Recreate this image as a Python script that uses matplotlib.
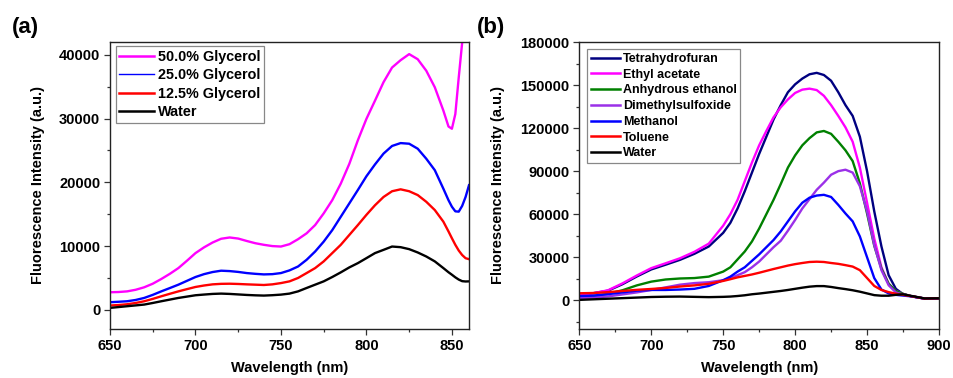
import matplotlib
matplotlib.use("Agg")
import matplotlib.pyplot as plt
from matplotlib.ticker import MultipleLocator

plt.rcParams['font.family'] = ['Liberation Sans', 'DejaVu Sans']
plt.rcParams['font.weight'] = 'bold'

# ---------------- Panel (a) data ----------------
wl_a = [650, 655, 660, 665, 670, 675, 680, 685, 690, 695, 700, 705, 710, 715, 720,
        725, 730, 735, 740, 745, 750, 755, 760, 765, 770, 775, 780, 785, 790, 795,
        800, 805, 810, 815, 820, 825, 830, 835, 840, 845, 848, 850, 852, 854, 856,
        858, 860]
gly50 = [2760, 2800, 2900, 3150, 3540, 4100, 4840, 5650, 6550, 7700, 8900, 9800, 10560,
         11150, 11350, 11180, 10800, 10450, 10200, 10000, 9930, 10300, 11080, 12000,
         13300, 15130, 17200, 19800, 22900, 26600, 29950, 32800, 35700, 38000, 39150,
         40100, 39300, 37500, 34900, 31250, 28750, 28400, 30700, 36450, 41900, 47000,
         52000]
gly25 = [1200, 1270, 1350, 1550, 1870, 2350, 2900, 3420, 3950, 4550, 5150, 5600, 5930,
         6140, 6080, 5950, 5770, 5650, 5560, 5600, 5770, 6190, 6800, 7850, 9150, 10700,
         12500, 14600, 16700, 18800, 20950, 22800, 24500, 25700, 26150, 26050, 25270,
         23700, 21900, 19000, 17200, 16170, 15450, 15400, 16300, 17700, 19550]
gly12 = [680, 760, 880, 1080, 1350, 1720, 2130, 2520, 2900, 3250, 3590, 3820, 4000, 4080,
         4100, 4060, 4000, 3950, 3900, 4000, 4200, 4470, 5000, 5770, 6550, 7600, 8900,
         10200, 11750, 13300, 14900, 16400, 17700, 18600, 18900, 18600, 18000, 16950,
         15650, 13830, 12300, 11230, 10200, 9300, 8600, 8100, 7950]
water_a = [310, 440, 570, 700, 830, 1080, 1350, 1610, 1870, 2080, 2290, 2400, 2500, 2550,
           2500, 2420, 2340, 2280, 2240, 2300, 2390, 2550, 2900, 3430, 3950, 4470, 5150,
           5880, 6660, 7330, 8110, 8900, 9410, 9930, 9830, 9520, 9000, 8370, 7600, 6550,
           5900, 5510, 5100, 4750, 4500, 4450, 4470]
labels_a = ['50.0% Glycerol', '25.0% Glycerol', '12.5% Glycerol', 'Water']

# ---------------- Panel (b) data ----------------
wl_b = [650, 660, 670, 680, 690, 700, 710, 720, 730, 740, 750, 755, 760, 765, 770, 775,
        780, 785, 790, 795, 800, 805, 810, 815, 820, 825, 830, 835, 840, 845, 850, 855,
        860, 865, 870, 875, 880, 890, 900]
thf = [3700, 5000, 6700, 11200, 16600, 21500, 24800, 28200, 32400, 37500, 47000, 54000,
       64000, 76000, 89000, 102000, 114000, 126000, 136000, 145000, 150500, 154500,
       157500, 158500, 157000, 153000, 145000, 136000, 128500, 114000, 90000, 62000,
       37500, 17500, 8000, 4300, 3000, 1200, 1400]
ethyl = [3700, 5000, 7000, 11800, 17300, 22400, 25800, 29300, 33800, 39500, 52000, 60000,
         70000, 83000, 96000, 108000, 118000, 127500, 134500, 140000, 144500, 146800,
         147500, 146500, 142500, 136000, 128500, 120500, 110500, 92500, 68000, 43000,
         23000, 11500, 6500, 4500, 3000, 1200, 1400]
ethanol = [2100, 3000, 4500, 7000, 10400, 13000, 14500, 15200, 15500, 16500, 20000, 23000,
           28500, 34000, 41000, 50000, 60000, 70000, 81000, 92500, 101000, 108000, 113000,
           117000, 118000, 116000, 110500, 104500, 97000, 81500, 60500, 38000, 22000,
           11500, 6500, 4500, 3000, 1200, 1400]
dmso = [1400, 1900, 2700, 4100, 5500, 7200, 9000, 10900, 12000, 12600, 14000, 15500,
        17500, 19600, 23000, 27000, 32000, 37000, 41500, 48500, 56000, 64000, 70500,
        77000, 82000, 87500, 90000, 91000, 89000, 79500, 62000, 38500, 21000, 10500,
        5500, 4000, 3000, 1200, 1400]
methanol = [3000, 3300, 4300, 5500, 6700, 7200, 7200, 7500, 8000, 10000, 14000, 16500,
            20000, 23000, 27500, 32000, 37000, 42000, 48000, 55000, 62000, 68000, 71500,
            73000, 73500, 72000, 66500, 60500, 55000, 44500, 30000, 15500, 7500, 4800,
            3800, 3300, 2800, 1200, 1400]
toluene = [4900, 5100, 5700, 6500, 7300, 7900, 8600, 9600, 10400, 11500, 13500, 14700,
           16000, 17000, 18000, 19200, 20500, 21800, 23000, 24200, 25200, 26000, 26700,
           26900, 26700, 26000, 25400, 24500, 23500, 21000, 15500, 10000, 7200, 5700,
           4600, 3800, 3000, 1200, 1400]
water_b = [300, 700, 1100, 1500, 1900, 2300, 2500, 2600, 2400, 2200, 2400, 2600, 3000,
           3500, 4200, 4700, 5300, 5900, 6500, 7200, 8000, 8800, 9500, 9900, 9900, 9300,
           8500, 7800, 7000, 6000, 4800, 3600, 3200, 3200, 3800, 4200, 3200, 1300, 1400]
labels_b = ['Tetrahydrofuran', 'Ethyl acetate', 'Anhydrous ethanol', 'Dimethylsulfoxide',
            'Methanol', 'Toluene', 'Water']

colors_a = ['#FF00FF', '#0000FF', '#FF0000', '#000000']
colors_b = ['#000080', '#FF00FF', '#008000', '#9B30E8', '#0000FF', '#FF0000', '#000000']

fig = plt.figure(figsize=(9.54, 3.78), dpi=100)
W, H = 954, 378
ax1 = fig.add_axes([110 / W, 49 / H, 359 / W, 287 / H])
ax2 = fig.add_axes([579.3 / W, 49 / H, 359.7 / W, 287 / H])


def style(ax):
    for s in ax.spines.values():
        s.set_linewidth(1.0)
        s.set_color('#222222')
    ax.tick_params(axis='both', which='both', direction='out', top=False, right=False,
                   labelsize=10.5, width=0.9, color='#333333')
    ax.tick_params(which='major', length=4, pad=3)
    ax.tick_params(which='minor', length=2.5)
    for lab in ax.get_xticklabels() + ax.get_yticklabels():
        lab.set_fontweight('bold')
    ax.set_xlabel('Wavelength (nm)', fontsize=10.5, fontweight='bold')
    ax.set_ylabel('Fluorescence Intensity (a.u.)', fontsize=10.5, fontweight='bold')


# Panel a
series_a = [gly50, gly25, gly12, water_a]
for ys, c, lab in zip(series_a, colors_a, labels_a):
    ax1.plot(wl_a, ys, color=c, lw=1.7, label=lab, solid_joinstyle='round')
ax1.set_xlim(650, 860)
ax1.set_ylim(-3000, 42000)
ax1.xaxis.set_major_locator(MultipleLocator(50))
ax1.xaxis.set_minor_locator(MultipleLocator(25))
ax1.yaxis.set_major_locator(MultipleLocator(10000))
ax1.yaxis.set_minor_locator(MultipleLocator(5000))
style(ax1)
ax1.xaxis.set_label_coords(0.5, -0.112)
ax1.yaxis.set_label_coords(-0.181, 0.5)
leg1 = ax1.legend(loc='upper left', bbox_to_anchor=(0.016, 0.985), fontsize=10.4,
                  frameon=True, fancybox=False, edgecolor='#888888', framealpha=1,
                  handlelength=2.4, handletextpad=0.25, borderpad=0.25,
                  labelspacing=0.3, borderaxespad=0)
leg1.get_frame().set_linewidth(0.9)
for t in leg1.get_texts():
    t.set_fontweight('bold')
lw_leg = [1.8, 1.0, 1.8, 1.8]
for ln, lw in zip(leg1.get_lines(), lw_leg):
    ln.set_linewidth(lw)

# Panel b
series_b = [thf, ethyl, ethanol, dmso, methanol, toluene, water_b]
for ys, c, lab in zip(series_b, colors_b, labels_b):
    ax2.plot(wl_b, ys, color=c, lw=1.7, label=lab, solid_joinstyle='round')
ax2.set_xlim(650, 900)
ax2.set_ylim(-20000, 180000)
ax2.xaxis.set_major_locator(MultipleLocator(50))
ax2.xaxis.set_minor_locator(MultipleLocator(25))
ax2.yaxis.set_major_locator(MultipleLocator(30000))
ax2.yaxis.set_minor_locator(MultipleLocator(15000))
style(ax2)
ax2.xaxis.set_label_coords(0.5, -0.112)
ax2.yaxis.set_label_coords(-0.207, 0.5)
leg2 = ax2.legend(loc='upper left', bbox_to_anchor=(0.022, 0.975), fontsize=9.0,
                  frameon=True, fancybox=False, edgecolor='#888888', framealpha=1,
                  handlelength=2.3, handletextpad=0.25, borderpad=0.3,
                  labelspacing=0.3, borderaxespad=0)
leg2.get_frame().set_linewidth(0.9)
for t in leg2.get_texts():
    t.set_fontweight('bold')
for ln in leg2.get_lines():
    ln.set_linewidth(1.8)

fig.text(25 / W, 1 - 27 / H, '(a)', fontsize=16, fontweight='bold', ha='center', va='center')
fig.text(491 / W, 1 - 27 / H, '(b)', fontsize=16, fontweight='bold', ha='center', va='center')

fig.savefig('out.png', dpi=100)
